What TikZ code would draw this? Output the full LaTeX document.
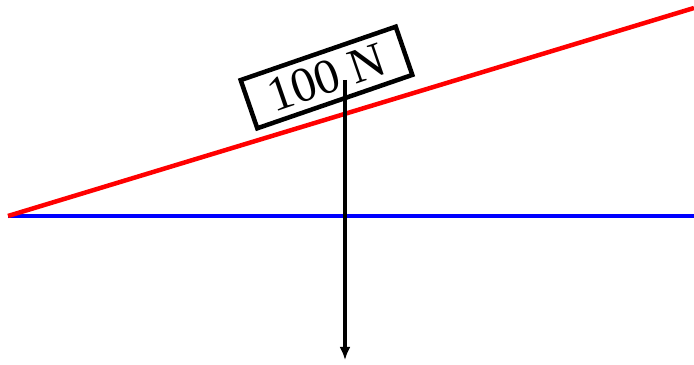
\documentclass[tikz,border=0pt]{standalone}
\usepackage{fontspec}
\setmainfont{Liberation Serif}
\usetikzlibrary{arrows.meta}

\begin{document}
\begin{tikzpicture}[x=0.02cm, y=0.02cm]
\useasboundingbox (0,0) rectangle (694,365);
% Points
\coordinate (O) at (8,149);
\coordinate (T) at (694,357);
\coordinate (H) at (694,149);
% Draw horizontal
\draw[line width=0.09cm, blue] (O) -- (H);
% Draw incline
\draw[line width=0.09cm, red] (O) -- (T);
% Block with weight
\node[draw, line width=0.09cm, rotate=19, minimum width=3.28cm, minimum height=1.02cm,
      inner sep=0pt, font=\fontsize{28}{28}\selectfont] (box) at (326.5,287.5) {100 N};
% Weight arrow
\coordinate (W) at (345,285);
\coordinate (Wend) at (345,5);
\draw[line width=0.08cm, -{Latex[length=0.26cm, width=0.22cm]}] (W) -- (Wend);
\end{tikzpicture}
\end{document}
